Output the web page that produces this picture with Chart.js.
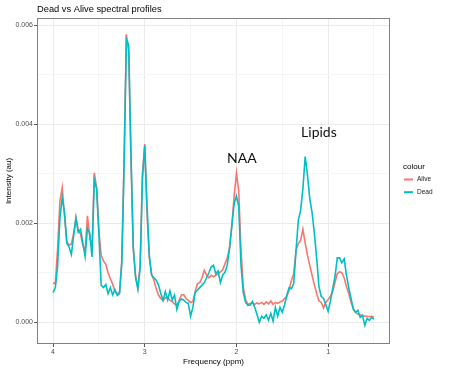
<!DOCTYPE html>
<html>
<head>
<meta charset="utf-8">
<script src="https://cdn.jsdelivr.net/npm/chart.js@4.4.1/dist/chart.umd.min.js"></script>
<style>
  html, body { margin: 0; padding: 0; background: #fff; }
  #chart { display: block; }
</style>
</head>
<body>
<canvas id="chart" width="455" height="386"></canvas>
<script>
// chemical shift (ppm), every 0.025 ppm
const ppm = [
    4.000, 3.975, 3.950, 3.925, 3.900, 3.875, 3.850, 3.825, 3.800, 3.775,
    3.750, 3.725, 3.700, 3.675, 3.650, 3.625, 3.600, 3.575, 3.550, 3.525,
    3.500, 3.475, 3.450, 3.425, 3.400, 3.375, 3.350, 3.325, 3.300, 3.275,
    3.250, 3.225, 3.200, 3.175, 3.150, 3.125, 3.100, 3.075, 3.050, 3.025,
    3.000, 2.975, 2.950, 2.925, 2.900, 2.875, 2.850, 2.825, 2.800, 2.775,
    2.750, 2.725, 2.700, 2.675, 2.650, 2.625, 2.600, 2.575, 2.550, 2.525,
    2.500, 2.475, 2.450, 2.425, 2.400, 2.375, 2.350, 2.325, 2.300, 2.275,
    2.250, 2.225, 2.200, 2.175, 2.150, 2.125, 2.100, 2.075, 2.050, 2.025,
    2.000, 1.975, 1.950, 1.925, 1.900, 1.875, 1.850, 1.825, 1.800, 1.775,
    1.750, 1.725, 1.700, 1.675, 1.650, 1.625, 1.600, 1.575, 1.550, 1.525,
    1.500, 1.475, 1.450, 1.425, 1.400, 1.375, 1.350, 1.325, 1.300, 1.275,
    1.250, 1.225, 1.200, 1.175, 1.150, 1.125, 1.100, 1.075, 1.050, 1.025,
    1.000, 0.975, 0.950, 0.925, 0.900, 0.875, 0.850, 0.825, 0.800, 0.775,
    0.750, 0.725, 0.700, 0.675, 0.650, 0.625, 0.600, 0.575, 0.550, 0.525,
    0.500
];

const alive = [
    0.00079, 0.00078, 0.00150, 0.00245, 0.00272, 0.00215, 0.00163, 0.00156, 0.00158, 0.00180,
    0.00212, 0.00185, 0.00178, 0.00155, 0.00145, 0.00215, 0.00172, 0.00150, 0.00302, 0.00272,
    0.00185, 0.00135, 0.00124, 0.00117, 0.00100, 0.00088, 0.00077, 0.00062, 0.00058, 0.00060,
    0.00125, 0.00330, 0.00582, 0.00545, 0.00330, 0.00150, 0.00095, 0.00068, 0.00115, 0.00300,
    0.00360, 0.00220, 0.00130, 0.00097, 0.00085, 0.00068, 0.00055, 0.00048, 0.00044, 0.00049,
    0.00050, 0.00044, 0.00042, 0.00037, 0.00034, 0.00044, 0.00055, 0.00056, 0.00048, 0.00044,
    0.00040, 0.00042, 0.00062, 0.00078, 0.00080, 0.00090, 0.00105, 0.00095, 0.00090, 0.00095,
    0.00092, 0.00095, 0.00098, 0.00102, 0.00106, 0.00118, 0.00130, 0.00150, 0.00195, 0.00255,
    0.00302, 0.00265, 0.00145, 0.00071, 0.00046, 0.00036, 0.00038, 0.00039, 0.00036, 0.00039,
    0.00037, 0.00040, 0.00036, 0.00041, 0.00037, 0.00043, 0.00036, 0.00040, 0.00038, 0.00041,
    0.00043, 0.00048, 0.00052, 0.00065, 0.00085, 0.00098, 0.00145, 0.00159, 0.00165, 0.00188,
    0.00160, 0.00135, 0.00115, 0.00095, 0.00076, 0.00058, 0.00043, 0.00040, 0.00029, 0.00040,
    0.00046, 0.00052, 0.00062, 0.00080, 0.00098, 0.00102, 0.00100, 0.00090, 0.00072, 0.00058,
    0.00041, 0.00028, 0.00020, 0.00016, 0.00015, 0.00013, 0.00012, 0.00012, 0.00011, 0.00012,
    0.00010
];

const dead = [
    0.00060, 0.00070, 0.00115, 0.00210, 0.00252, 0.00222, 0.00160, 0.00152, 0.00137, 0.00175,
    0.00210, 0.00182, 0.00188, 0.00160, 0.00133, 0.00190, 0.00180, 0.00132, 0.00288, 0.00270,
    0.00180, 0.00075, 0.00070, 0.00076, 0.00058, 0.00070, 0.00055, 0.00066, 0.00054, 0.00058,
    0.00120, 0.00320, 0.00572, 0.00560, 0.00340, 0.00150, 0.00090, 0.00068, 0.00110, 0.00290,
    0.00357, 0.00235, 0.00135, 0.00095, 0.00090, 0.00085, 0.00075, 0.00058, 0.00044, 0.00062,
    0.00045, 0.00063, 0.00045, 0.00055, 0.00026, 0.00042, 0.00047, 0.00045, 0.00040, 0.00038,
    0.00012, 0.00030, 0.00060, 0.00065, 0.00070, 0.00075, 0.00080, 0.00090, 0.00100, 0.00112,
    0.00115, 0.00098, 0.00104, 0.00080, 0.00095, 0.00101, 0.00115, 0.00150, 0.00195, 0.00240,
    0.00255, 0.00235, 0.00115, 0.00060, 0.00040, 0.00034, 0.00035, 0.00042, 0.00030, 0.00015,
    0.00000, 0.00012, 0.00008, 0.00015, 0.00004, 0.00018, 0.00002, 0.00030, 0.00012, 0.00030,
    0.00020, 0.00035, 0.00055, 0.00070, 0.00068, 0.00078, 0.00145, 0.00206, 0.00226, 0.00270,
    0.00335, 0.00298, 0.00250, 0.00222, 0.00180, 0.00130, 0.00072, 0.00052, 0.00048, 0.00036,
    0.00022, 0.00042, 0.00068, 0.00092, 0.00130, 0.00130, 0.00120, 0.00128, 0.00095, 0.00070,
    0.00048, 0.00026, 0.00020, 0.00024, 0.00010, 0.00014, -0.00006, 0.00008, 0.00004, 0.00010,
    0.00006
];

const xMajor = [4, 3, 2, 1];
const xTickLabels = ['4', '3', '2', '1'];
const xMinor = [3.5, 2.5, 1.5, 0.5];
const yMajor = [0, 0.002, 0.004, 0.006];
const yTickLabels = ['0.000', '0.002', '0.004', '0.006'];
const yMinor = [0.001, 0.003, 0.005];

// peak names written over the spectrum
const peakNames = ['NAA', 'Lipids'];
const peakPpm = [1.94, 1.10];
const peakIntensity = [0.00331, 0.00384];

const FONT = '"Liberation Sans", Arial, sans-serif';

// major + minor ticks, majors flagged so grid/tick colours can differ
function buildTicks(major, minor) {
    return major.map(v => ({ value: v, major: true }))
        .concat(minor.map(v => ({ value: v, major: false })))
        .sort((a, b) => a.value - b.value);
}

const gridColor = c => (c.tick && c.tick.major) ? '#ebebeb' : '#f5f5f5';
const tickColor = c => (c.tick && c.tick.major) ? '#555555' : 'rgba(0,0,0,0)';

const extras = {
    id: 'extras',
    afterDatasetsDraw(chart) {
        const { ctx, scales } = chart;
        ctx.save();
        ctx.font = '14px Lato, "Open Sans", sans-serif';
        ctx.fillStyle = '#111';
        ctx.textAlign = 'center';
        ctx.textBaseline = 'middle';
        peakNames.forEach((name, i) => {
            ctx.fillText(name, scales.x.getPixelForValue(peakPpm[i]), scales.y.getPixelForValue(peakIntensity[i]));
        });
        ctx.restore();
    },
    afterDraw(chart) {
        const { ctx, chartArea: a } = chart;
        ctx.save();
        // panel border
        ctx.strokeStyle = '#808080';
        ctx.lineWidth = 1;
        ctx.strokeRect(a.left + 0.5, a.top + 0.5, a.right - a.left - 1, a.bottom - a.top - 1);

        // title
        ctx.fillStyle = '#000';
        ctx.font = '9.3px ' + FONT;
        ctx.textAlign = 'left';
        ctx.textBaseline = 'middle';
        ctx.fillText('Dead vs Alive spectral profiles', a.left, 9);

        // legend
        const lx = a.right + 13;
        ctx.font = '8px ' + FONT;
        ctx.fillText('colour', lx, 167);
        ctx.font = '6.5px ' + FONT;
        chart.data.datasets.forEach((ds, i) => {
            const y = 179.5 + i * 12.7;
            ctx.strokeStyle = ds.borderColor;
            ctx.lineWidth = 2;
            ctx.beginPath();
            ctx.moveTo(lx + 1, y);
            ctx.lineTo(lx + 10, y);
            ctx.stroke();
            ctx.fillStyle = '#1a1a1a';
            ctx.fillText(ds.label, lx + 14, y);
        });
        ctx.restore();
    }
};

new Chart(document.getElementById('chart'), {
    type: 'line',
    data: {
        datasets: [
            {
                label: 'Alive',
                data: ppm.map((p, i) => ({ x: p, y: alive[i] })),
                borderColor: '#F8766D',
                borderWidth: 1.6,
                pointRadius: 0,
                tension: 0,
                order: 1
            },
            {
                label: 'Dead',
                data: ppm.map((p, i) => ({ x: p, y: dead[i] })),
                borderColor: '#00BFC4',
                borderWidth: 1.6,
                pointRadius: 0,
                tension: 0,
                order: 0
            }
        ]
    },
    options: {
        responsive: false,
        animation: false,
        devicePixelRatio: 1,
        layout: { padding: { top: 18, right: 65, left: 0, bottom: 0 } },
        plugins: {
            legend: { display: false },
            tooltip: { enabled: false },
            title: { display: false }
        },
        scales: {
            x: {
                type: 'linear',
                reverse: true,
                min: 0.325,
                max: 4.175,
                afterFit: s => { s.height = 42; },
                afterBuildTicks: s => { s.ticks = buildTicks(xMajor, xMinor); },
                ticks: {
                    autoSkip: false,
                    maxRotation: 0,
                    padding: 1,
                    color: '#4d4d4d',
                    font: { family: FONT, size: 7 },
                    callback: v => {
                        const k = xMajor.indexOf(v);
                        return k >= 0 ? xTickLabels[k] : '';
                    }
                },
                grid: { color: gridColor, tickColor: tickColor, tickLength: 3, lineWidth: 1 },
                border: { display: false },
                title: {
                    display: true,
                    text: 'Frequency (ppm)',
                    color: '#000',
                    font: { family: FONT, size: 8 },
                    padding: { top: 0, bottom: 19.5 }
                }
            },
            y: {
                min: -0.00044,
                max: 0.00615,
                afterFit: s => { s.width = 37; },
                afterBuildTicks: s => { s.ticks = buildTicks(yMajor, yMinor); },
                ticks: {
                    autoSkip: false,
                    padding: 1,
                    color: '#4d4d4d',
                    font: { family: FONT, size: 7 },
                    callback: v => {
                        const k = yMajor.findIndex(m => Math.abs(m - v) < 1e-9);
                        return k >= 0 ? yTickLabels[k] : '';
                    }
                },
                grid: { color: gridColor, tickColor: tickColor, tickLength: 3, lineWidth: 1 },
                border: { display: false },
                title: {
                    display: true,
                    text: 'Intensity (au)',
                    color: '#000',
                    font: { family: FONT, size: 8 },
                    padding: { top: 4, bottom: 0 }
                }
            }
        }
    },
    plugins: [extras]
});
</script>
</body>
</html>
